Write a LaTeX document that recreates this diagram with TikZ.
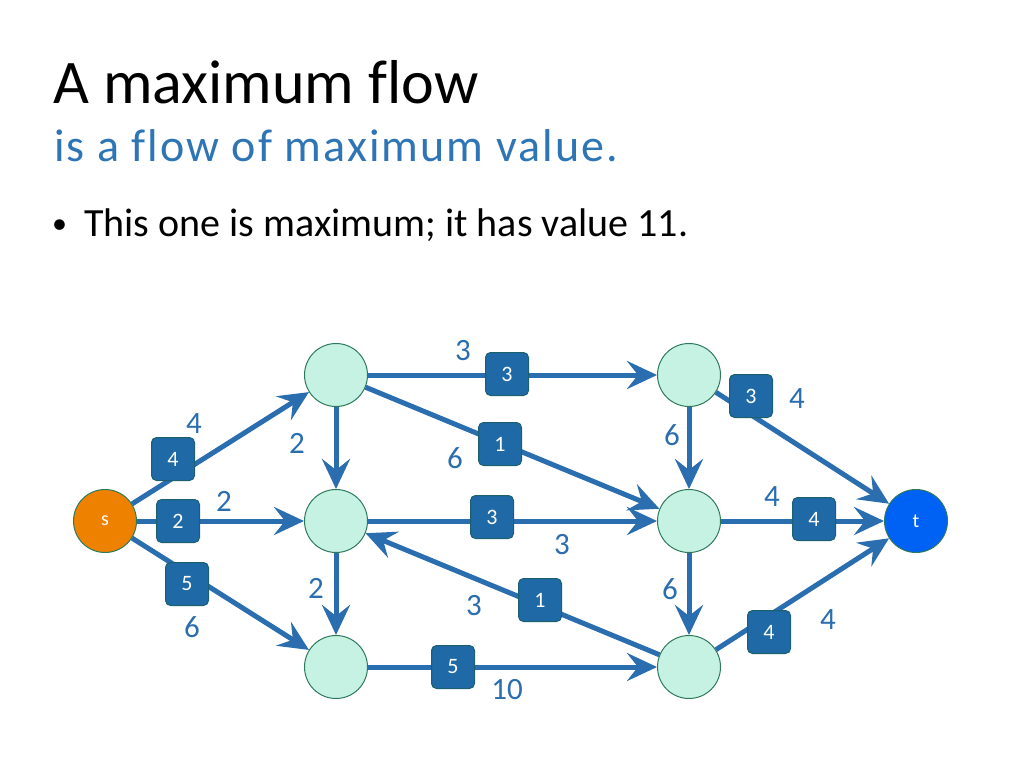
\documentclass[tikz,border=0pt]{standalone}
\usepackage{xcolor}
\usepackage{fontspec}
\setmainfont{Carlito}[Ligatures={NoCommon}]
\usepackage{tikz}
\usetikzlibrary{arrows.meta}

\definecolor{edgeblue}{HTML}{2A6EAF}
\definecolor{boxblue}{HTML}{1F69A6}
\definecolor{boxline}{HTML}{1C5F6E}
\definecolor{nodefill}{HTML}{C6F2E3}
\definecolor{nodeline}{HTML}{2E7A5A}
\definecolor{sourcefill}{HTML}{EE8200}
\definecolor{sinkfill}{HTML}{0062F5}
\definecolor{subblue}{HTML}{2E75B6}

\begin{document}
\begin{tikzpicture}[x=1pt,y=-1pt,
    vertex/.style={circle,draw=nodeline,fill=nodefill,line width=1pt,minimum size=63pt,inner sep=0pt},
    flowbox/.style={rounded corners=5pt,draw=boxline,fill=boxblue,text=white,line width=1pt,minimum size=43pt,inner sep=0pt,font=\fontsize{22}{22}\selectfont},
    capacity/.style={text=edgeblue,font=\fontsize{31}{31}\selectfont},
    arc/.style={draw=edgeblue,line width=5pt,-{Stealth[length=30pt,width=28pt,inset=11pt]}}]
    \useasboundingbox (0,0) rectangle (1024,768);

    % Heading
    \node (title) [anchor=base west,inner sep=0pt] at (53,103) {\fontsize{62}{62}\selectfont A maximum flow};
    \node (subtitle) [anchor=base west,inner sep=0pt,text=subblue] at (54,161) {\fontsize{46}{46}\selectfont\addfontfeature{LetterSpace=4.5}is a flow of maximum value.};
    \node (bullet) [anchor=base west,inner sep=0pt] at (52,233) {\fontsize{30}{30}\selectfont \textbullet};
    \node (line1) [anchor=base west,inner sep=0pt] at (84,236) {\fontsize{40}{40}\selectfont This one is maximum; it has value 11.};

    % Nodes
    \node (s) [vertex,fill=sourcefill,text=white,font=\fontsize{20}{20}\selectfont] at (105,521) {s};
    \node (a) [vertex] at (336,375) {};
    \node (b) [vertex] at (336,521) {};
    \node (c) [vertex] at (336,667) {};
    \node (d) [vertex] at (689,375) {};
    \node (e) [vertex] at (689,521) {};
    \node (f) [vertex] at (689,667) {};
    \node (t) [vertex,fill=sinkfill,text=white,font=\fontsize{20}{20}\selectfont] at (916,521) {t};

    % Arrows
    \draw[arc] (s) -- (a);
    \draw[arc] (s) -- (b);
    \draw[arc] (s) -- (c);
    \draw[arc] (a) -- (b);
    \draw[arc] (b) -- (c);
    \draw[arc] (a) -- (d);
    \draw[arc] (a) -- (e);
    \draw[arc] (b) -- (e);
    \draw[arc] (f) -- (b);
    \draw[arc] (c) -- (f);
    \draw[arc] (d) -- (e);
    \draw[arc] (e) -- (f);
    \draw[arc] (d) -- (t);
    \draw[arc] (e) -- (t);
    \draw[arc] (f) -- (t);

    % Flows
    \node (fsa) [flowbox] at (173,459) {4};
    \node (fsb) [flowbox] at (178,521) {2};
    \node (fsc) [flowbox] at (187,584) {5};
    \node (fad) [flowbox] at (507,374) {3};
    \node (fae) [flowbox] at (500,444) {1};
    \node (fbe) [flowbox] at (492,517) {3};
    \node (ffb) [flowbox] at (540,600) {1};
    \node (fcf) [flowbox] at (453,667) {5};
    \node (fdt) [flowbox] at (751,396) {3};
    \node (fet) [flowbox] at (814,519) {4};
    \node (fft) [flowbox] at (769,632) {4};

    % Capacities
    \node (csa) [capacity] at (194,424) {4};
    \node (csb) [capacity] at (224,501) {2};
    \node (csc) [capacity] at (192,627) {6};
    \node (cab) [capacity] at (297,443) {2};
    \node (cbc) [capacity] at (316,588) {2};
    \node (cad) [capacity] at (463,351) {3};
    \node (cae) [capacity] at (455,458) {6};
    \node (cbe) [capacity] at (562,545) {3};
    \node (cfb) [capacity] at (474,606) {3};
    \node (ccf) [capacity] at (507,690) {10};
    \node (cde) [capacity] at (672,435) {6};
    \node (cef) [capacity] at (670,589) {6};
    \node (cdt) [capacity] at (797,399) {4};
    \node (cet) [capacity] at (772,497) {4};
    \node (cft) [capacity] at (828,620) {4};
\end{tikzpicture}
\end{document}
